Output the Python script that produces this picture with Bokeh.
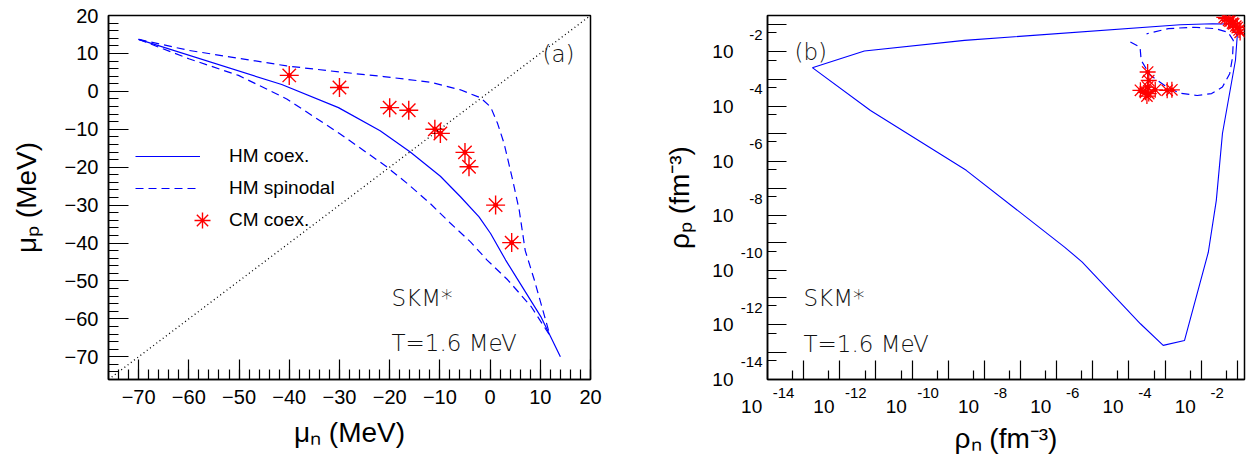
from bokeh.plotting import figure
from bokeh.layouts import row
from bokeh.models import (Legend, LegendItem, Label, FixedTicker, LogAxis, LogScale,
                          SingleIntervalTicker, CustomJSTickFormatter, Range1d)
from bokeh.embed import file_html
from bokeh.resources import INLINE

# ---------------- panel (a): chemical potentials (MeV) ----------------
coex_mu_n = [-70, -41.5, -30.2, -21.9, -15.9, -9.9, -5.9, -2.2, 0.1, 3.1, 5.3, 10.1, 14.0]
coex_mu_p = [13.7, 1.8, -4.3, -10.4, -16.0, -22.4, -27.8, -33.1, -37.5, -44.5, -49.2, -59.4, -70.0]

spin_up_mu_n = [-70, -60, -40.5, -30, -21.2, -11.8, -5.9, -1.9, 0.1, 1.5, 2.8, 4.5, 5.8, 7.0, 8.8, 11.8]
spin_up_mu_p = [13.7, 10.8, 6.7, 5.1, 3.9, 2.4, 0.4, -1.7, -4.1, -8.5, -13.8, -23.4, -31.3, -42.0, -49.7, -63.8]

spin_lo_mu_n = [-70, -60, -50.1, -40.5, -30, -20.8, -16.5, -11.9, -7.9, -3.9, -0.6, 3.5, 8.2, 11.8]
spin_lo_mu_p = [13.7, 8.6, 4.2, -2.0, -11.1, -19.7, -24.3, -29.6, -34.8, -39.7, -44.5, -49.7, -56.8, -64.2]

cm_mu_n = [-40, -30, -20, -16.2, -11, -9.9, -5, -4.2, 1.1, 4.3]
cm_mu_p = [4.2, 1.0, -4.3, -5.0, -10.0, -11.1, -16.1, -19.9, -30.0, -39.9]

diag_mu = [-76, 20]
mu_range = (-76, 20)

# ---------------- panel (b): densities (fm^-3) ----------------
coex_rho_n = [1.74e-13, 7.08e-12, 3.16e-9, 1.66e-6, 5.13e-6, 2.09e-4, 8.91e-4, 3.47e-3, 1.58e-2,
              2.63e-2, 3.89e-2, 8.91e-2, 0.100, 6.31e-2, 2.04e-2, 2.63e-3, 2.82e-9, 4.79e-12, 1.74e-13]
coex_rho_p = [2.63e-3, 7.08e-5, 4.57e-7, 7.08e-10, 2.00e-10, 1.10e-12, 1.78e-13, 2.69e-13, 4.57e-10,
              3.63e-8, 1.02e-5, 4.90e-3, 3.98e-2, 0.105, 0.107, 9.77e-2, 2.63e-2, 1.07e-2, 2.63e-3]

spin_rho_n = [1.10e-4, 2.04e-4, 2.19e-4, 3.89e-4, 9.77e-4, 2.45e-3, 7.76e-3, 1.95e-2, 3.89e-2,
              6.17e-2, 7.41e-2, 7.76e-2, 5.50e-2, 2.45e-2, 6.17e-3, 1.23e-3, 3.09e-4]
spin_rho_p = [2.29e-2, 1.48e-2, 4.90e-3, 1.38e-3, 5.89e-4, 3.09e-4, 2.51e-4, 2.95e-4, 5.13e-4,
              1.58e-3, 6.46e-3, 2.63e-2, 5.25e-2, 7.08e-2, 7.94e-2, 7.08e-2, 4.57e-2]

gas_rho_n = [3.31e-4, 3.55e-4, 3.31e-4, 2.88e-4, 3.55e-4, 2.09e-4, 5.37e-4, 1.15e-3, 1.55e-3, 3.16e-4]
gas_rho_p = [1.82e-3, 8.91e-4, 5.13e-4, 3.31e-4, 2.95e-4, 3.89e-4, 4.07e-4, 3.89e-4, 4.07e-4, 2.40e-4]
liq_rho_n = [0.0437, 0.0490, 0.0575, 0.0631, 0.0741, 0.0794, 0.0912, 0.100, 0.112, 0.120]
liq_rho_p = [0.182, 0.166, 0.141, 0.132, 0.112, 0.105, 0.0871, 0.0776, 0.0631, 0.0513]

rho_x_range = (1e-14, 10 ** -0.8)
rho_y_range = (1e-14, 10 ** -0.67)
decade_exps = list(range(-14, 0))
minor_exps = list(range(-14, -1))
label_exps = [-14, -12, -10, -8, -6, -4, -2]

FONT = "Liberation Sans"
LIGHT = "DejaVu Sans ExtraLight, DejaVu Sans Light, Lato"
BLUE = "#0000ff"
RED = "#ff0000"
TITLE_SIZE = "28px"


def style_axis(ax, tick_in=20, minor_in=10):
    ax.major_tick_in = tick_in
    ax.major_tick_out = 0
    ax.minor_tick_in = minor_in
    ax.minor_tick_out = 0
    ax.axis_line_width = 1.5
    ax.axis_line_color = "black"
    ax.major_tick_line_width = 1.2
    ax.minor_tick_line_width = 1.2
    ax.major_tick_line_color = "black"
    ax.minor_tick_line_color = "black"
    ax.major_label_text_font = FONT
    ax.major_label_text_font_size = "20px"
    ax.major_label_text_color = "black"
    ax.axis_label_text_font = FONT
    ax.axis_label_text_font_size = TITLE_SIZE
    ax.axis_label_text_font_style = "normal"
    ax.axis_label_text_color = "black"


def frame_style(p):
    p.grid.visible = False
    p.outline_line_color = "black"
    p.outline_line_width = 1.5
    p.background_fill_color = "white"
    p.border_fill_color = "white"


# ================= panel (a) =================
pa = figure(width=620, height=460, x_range=Range1d(*mu_range), y_range=Range1d(*mu_range),
            output_backend="svg", toolbar_location=None,
            min_border_left=108, min_border_right=30, min_border_top=15, min_border_bottom=81)
frame_style(pa)
pa.xaxis.ticker = SingleIntervalTicker(interval=10, num_minor_ticks=5)
pa.yaxis.ticker = SingleIntervalTicker(interval=10, num_minor_ticks=5)
style_axis(pa.xaxis[0])
style_axis(pa.yaxis[0])
pa.xaxis.axis_label = "μₙ (MeV)"
pa.yaxis.axis_label = "μₚ (MeV)"
pa.xaxis.major_label_standoff = 10
pa.xaxis.axis_label_standoff = 10
pa.yaxis.major_label_standoff = 10
pa.yaxis.axis_label_standoff = 20

r_coex = pa.line(coex_mu_n, coex_mu_p, line_color=BLUE, line_width=1.2)
r_up = pa.line(spin_up_mu_n, spin_up_mu_p, line_color=BLUE, line_width=1.2, line_dash="8 5")
r_lo = pa.line(spin_lo_mu_n, spin_lo_mu_p, line_color=BLUE, line_width=1.2, line_dash="8 5")
r_star = pa.scatter(cm_mu_n, cm_mu_p, marker="asterisk", size=19, line_color=RED, line_width=1.4)
r_dot = pa.scatter(cm_mu_n, cm_mu_p, marker="circle", size=4, fill_color=RED, line_color=RED)
pa.line(diag_mu, diag_mu, line_color="black", line_width=1.3, line_dash="1 3")

leg_common = dict(padding=0, margin=0, spacing=10, label_height=20,
                  border_line_color=None, background_fill_alpha=0,
                  label_text_font=FONT, label_text_font_size="19px", label_text_color="black")
leg_a = Legend(items=[LegendItem(label="HM coex.", renderers=[r_coex]),
                      LegendItem(label="HM spinodal", renderers=[r_up])],
               location=(27, 180), glyph_width=65, glyph_height=20, label_standoff=29, **leg_common)
leg_b = Legend(items=[LegendItem(label="CM coex.", renderers=[r_star])],
               location=(74, 139), glyph_width=40, glyph_height=40, label_standoff=7, **leg_common)
pa.add_layout(leg_a)
pa.add_layout(leg_b)

ann = dict(x_units="screen", y_units="screen", text_font=LIGHT, text_font_size="23px",
           text_color="#111111", text_baseline="alphabetic")
pa.add_layout(Label(x=283, y=82, text="SKM*", **ann))
pa.add_layout(Label(x=283, y=37, text="T=1.6 MeV", **ann))
pa.add_layout(Label(x=434, y=326, text="(a)", **ann))

# ================= panel (b) =================
pb = figure(width=631, height=460, x_axis_type="log", y_axis_type="log",
            x_range=Range1d(*rho_x_range), y_range=Range1d(*rho_y_range),
            output_backend="svg", toolbar_location=None,
            min_border_left=147, min_border_right=7, min_border_top=15, min_border_bottom=81)
frame_style(pb)
for ax in (pb.xaxis[0], pb.yaxis[0]):
    ax.ticker = FixedTicker(ticks=[10.0 ** e for e in decade_exps],
                            minor_ticks=[5 * 10.0 ** e for e in minor_exps])
    ax.formatter = CustomJSTickFormatter(code="return ''")
    style_axis(ax, tick_in=19, minor_in=9)
    ax.major_label_standoff = 0
    ax.major_label_text_font_size = "0px"

# shifted ranges so that the exponent of each "10^n" label sits beside / above its tick
dx = 16 / 36.15   # decades per 16 px on the x frame
dy = 17 / 27.3    # decades per 17 px on the y frame
pb.extra_x_ranges = {"xexp": Range1d(rho_x_range[0] * 10 ** -dx, rho_x_range[1] * 10 ** -dx)}
pb.extra_y_ranges = {"yexp": Range1d(rho_y_range[0] * 10 ** -dy, rho_y_range[1] * 10 ** -dy)}
pb.extra_x_scales = {"xexp": LogScale()}
pb.extra_y_scales = {"yexp": LogScale()}

label_ticks = [10.0 ** e for e in label_exps]
exp_fmt = CustomJSTickFormatter(code="return String(Math.round(Math.log10(tick)))")
ten_fmt = CustomJSTickFormatter(code="return '10'")
# trailing figure spaces push the centred "10" to the left of its tick
ten_left_fmt = CustomJSTickFormatter(code="return '10\u2007\u2007\u2007'")


def label_axis(ax, fmt, size, standoff):
    ax.ticker = FixedTicker(ticks=label_ticks, minor_ticks=[])
    ax.formatter = fmt
    ax.major_tick_in = 0
    ax.major_tick_out = 0
    ax.minor_tick_in = 0
    ax.minor_tick_out = 0
    ax.axis_line_color = None
    ax.major_tick_line_color = None
    ax.minor_tick_line_color = None
    ax.major_label_text_font = FONT
    ax.major_label_text_font_size = size
    ax.major_label_text_color = "black"
    ax.major_label_standoff = standoff
    ax.axis_label_text_font = FONT
    ax.axis_label_text_font_size = TITLE_SIZE
    ax.axis_label_text_font_style = "normal"
    ax.axis_label_text_color = "black"


x_exp_ax = LogAxis(x_range_name="xexp")
label_axis(x_exp_ax, exp_fmt, "15px", 8)
pb.add_layout(x_exp_ax, "below")
x_ten_ax = LogAxis()
label_axis(x_ten_ax, ten_left_fmt, "19px", -5)
x_ten_ax.axis_label = "ρₙ (fm⁻³)"
x_ten_ax.axis_label_standoff = 3
pb.add_layout(x_ten_ax, "below")

y_exp_ax = LogAxis(y_range_name="yexp")
label_axis(y_exp_ax, exp_fmt, "15px", 5)
pb.add_layout(y_exp_ax, "left")
y_ten_ax = LogAxis()
label_axis(y_ten_ax, ten_fmt, "19px", 4)
y_ten_ax.axis_label = "ρₚ (fm⁻³)"
y_ten_ax.axis_label_standoff = 14
pb.add_layout(y_ten_ax, "left")

pb.line(coex_rho_n, coex_rho_p, line_color=BLUE, line_width=1.1)
pb.line(spin_rho_n, spin_rho_p, line_color=BLUE, line_width=1.2, line_dash="8 5")
pb.scatter(gas_rho_n, gas_rho_p, marker="asterisk", size=16, line_color=RED, line_width=1.3)
pb.scatter(liq_rho_n, liq_rho_p, marker="asterisk", size=16, line_color=RED, line_width=1.3)
pb.scatter(gas_rho_n + liq_rho_n, gas_rho_p + liq_rho_p, marker="circle", size=3.5,
           fill_color=RED, line_color=RED)

pb.add_layout(Label(x=27, y=328, text="(b)", **ann))
pb.add_layout(Label(x=36, y=82, text="SKM*", **ann))
pb.add_layout(Label(x=36, y=36, text="T=1.6 MeV", **ann))

layout = row(pa, pb)
open("out.html", "w").write(file_html(layout, INLINE))
